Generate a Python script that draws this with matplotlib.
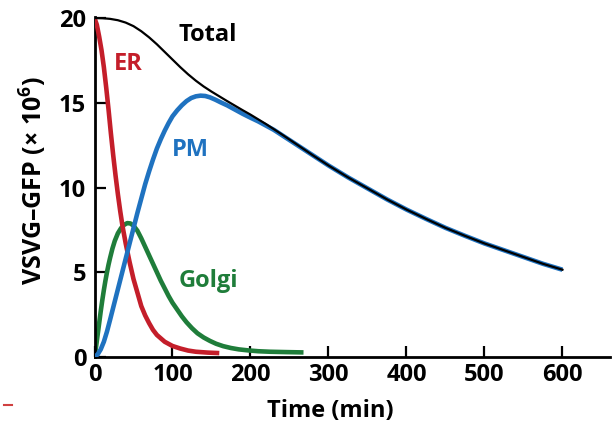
import matplotlib
matplotlib.use('Agg')
import matplotlib.pyplot as plt
from matplotlib.lines import Line2D

plt.rcParams['font.family'] = ['Open Sans', 'DejaVu Sans']
plt.rcParams['font.weight'] = 'bold'
plt.rcParams['axes.labelweight'] = 'bold'
plt.rcParams['mathtext.fontset'] = 'custom'
plt.rcParams['mathtext.rm'] = 'Open Sans:bold'
plt.rcParams['mathtext.bf'] = 'Open Sans:bold'

# --- valores ---
t_er = [0, 3, 6, 9, 12, 15, 18, 21, 24, 27, 30, 33, 36, 40, 45, 50, 55, 60, 65, 70, 75, 80,
        90, 100, 110, 120, 130, 145, 160]
er = [20, 19.6, 18.9, 18.1, 17.1, 15.9, 14.6, 13.2, 11.9, 10.7, 9.6, 8.6, 7.7, 6.7, 5.6, 4.6,
      3.8, 3.0, 2.45, 2.0, 1.6, 1.3, 0.9, 0.65, 0.5, 0.38, 0.31, 0.26, 0.23]

t_golgi = [0, 2, 4, 6, 8, 10, 12, 14, 16, 18, 20, 23, 26, 30, 34, 38, 42, 46, 50, 55, 60, 65,
           70, 75, 80, 85, 90, 95, 100, 106, 112, 118, 125, 132, 140, 148, 156, 165, 175, 185,
           197, 210, 225, 245, 268]
golgi = [0, 0.6, 1.3, 2.0, 2.7, 3.35, 3.95, 4.5, 5.0, 5.45, 5.85, 6.4, 6.85, 7.3, 7.6, 7.8,
         7.9, 7.88, 7.75, 7.45, 7.0, 6.5, 6.0, 5.5, 5.0, 4.5, 4.05, 3.6, 3.2, 2.8, 2.4, 2.05,
         1.7, 1.4, 1.15, 0.95, 0.78, 0.64, 0.53, 0.45, 0.39, 0.34, 0.31, 0.29, 0.27]

t_pm = [0, 4, 8, 12, 16, 20, 25, 30, 35, 40, 45, 50, 55, 60, 65, 70, 75, 80, 85, 90, 95, 100,
        106, 112, 118, 124, 130, 136, 142, 148, 155, 162, 170, 180, 190, 200, 210, 220, 230,
        240, 250, 260, 280, 300, 325, 350, 375, 400, 425, 450, 475, 500, 525, 550, 575, 600]
pm = [0, 0.15, 0.45, 0.9, 1.5, 2.2, 3.1, 4.0, 4.9, 5.8, 6.7, 7.6, 8.5, 9.35, 10.2, 10.95,
      11.65, 12.3, 12.85, 13.35, 13.8, 14.2, 14.55, 14.85, 15.1, 15.28, 15.38, 15.42, 15.4,
      15.32, 15.18, 15.02, 14.85, 14.6, 14.35, 14.12, 13.9, 13.65, 13.4, 13.1, 12.8, 12.5,
      11.9, 11.3, 10.6, 9.95, 9.3, 8.7, 8.15, 7.62, 7.15, 6.7, 6.3, 5.9, 5.5, 5.15]

t_total = [0, 10, 20, 30, 40, 50, 60, 70, 80, 90, 100, 110, 120, 130, 140, 150, 160, 170, 180,
           190, 200, 210, 220, 230, 240, 250, 260, 280, 300, 325, 350, 375, 400, 425, 450,
           475, 500, 525, 550, 575, 600]
total = [20, 19.99, 19.95, 19.87, 19.73, 19.52, 19.22, 18.86, 18.45, 18.0, 17.55, 17.1, 16.68,
         16.3, 15.96, 15.66, 15.38, 15.1, 14.83, 14.56, 14.3, 14.02, 13.74, 13.44, 13.14,
         12.83, 12.52, 11.9, 11.3, 10.6, 9.95, 9.3, 8.7, 8.15, 7.62, 7.15, 6.7, 6.3, 5.9,
         5.5, 5.15]

x_ticks = [0, 100, 200, 300, 400, 500, 600]
y_ticks = [0, 5, 10, 15, 20]

# --- cores ---
VERMELHO = '#c41e2a'
VERDE = '#1f7d3a'
AZUL = '#1f72c0'

fig = plt.figure(figsize=(6.15, 4.22), dpi=100)
ax = fig.add_axes([94.5 / 615, 65 / 422, 515.5 / 615, 340 / 422])

estilo = dict(lw=3.3, solid_capstyle='butt', solid_joinstyle='round')
ax.plot(t_golgi, golgi, color=VERDE, zorder=2, **estilo)
ax.plot(t_er, er, color=VERMELHO, zorder=3, **estilo)
ax.plot(t_pm, pm, color=AZUL, zorder=4, **estilo)
ax.plot(t_total, total, color='black', lw=1.6, solid_joinstyle='round', zorder=5)

ax.text(145, 19.0, 'Total', color='black', fontsize=17, ha='center', va='center')
ax.text(43, 17.3, 'ER', color=VERMELHO, fontsize=17, ha='center', va='center')
ax.text(123, 12.2, 'PM', color=AZUL, fontsize=17, ha='center', va='center')
ax.text(146, 4.5, 'Golgi', color=VERDE, fontsize=17, ha='center', va='center')

ax.set_xlim(0, 661)
ax.set_ylim(0, 20.06)
ax.set_xticks(x_ticks)
ax.set_yticks(y_ticks)
ax.tick_params(direction='in', length=8, width=1.6, labelsize=17, pad=4)
ax.tick_params(axis='y', pad=6)
for lbl in ax.get_xticklabels() + ax.get_yticklabels():
    lbl.set_fontweight('bold')

for lado in ['top', 'right']:
    ax.spines[lado].set_visible(False)
for lado in ['left', 'bottom']:
    ax.spines[lado].set_linewidth(2)

ax.set_xlabel('Time (min)', fontsize=17, fontweight='bold')
ax.xaxis.set_label_coords(0.457, -0.125)
ax.set_ylabel(r'VSVG–GFP (× 10$^{6}$)', fontsize=18, fontweight='bold', va='center')
ax.yaxis.set_label_coords(-0.118, 0.52)

# pequeno traço vermelho no canto inferior esquerdo
fig.add_artist(Line2D([4 / 615, 12 / 615], [1 - 405 / 422] * 2, color='#d04040', lw=1.5))

plt.savefig('out.png', dpi=100)
